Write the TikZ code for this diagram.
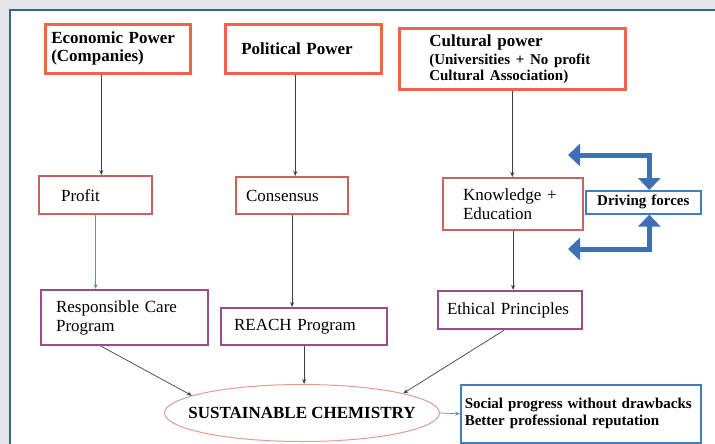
\documentclass[tikz,border=0pt]{standalone}
\usepackage{fontspec}
\setmainfont{Liberation Serif}
\usetikzlibrary{arrows.meta,shapes.geometric}

\definecolor{panelgray}{HTML}{E3E5E9}
\definecolor{paneledge}{HTML}{2B6C86}
\definecolor{powerred}{HTML}{EE6547}
\definecolor{midred}{HTML}{C9635A}
\definecolor{progpurple}{HTML}{9B4C8C}
\definecolor{ellpink}{HTML}{E39A94}
\definecolor{driveblue}{HTML}{3F7FC0}
\definecolor{forceblue}{HTML}{3E70B6}
\definecolor{linkgray}{HTML}{404040}
\definecolor{linkblue}{HTML}{5C8FC8}

\begin{document}
\begin{tikzpicture}[x=1pt, y=-1pt]
                    \tikzstyle{power} = [draw=powerred, line width=2.6pt, anchor=north west, align=left, font=\fontsize{17}{18}\selectfont\bfseries]
                    \tikzstyle{stage} = [draw=midred, line width=2.2pt, anchor=north west, align=left, font=\fontsize{17}{19}\selectfont]
                    \tikzstyle{program} = [draw=progpurple, line width=2.2pt, anchor=north west, align=left, font=\fontsize{17}{19}\selectfont]
                    \tikzstyle{bluebox} = [draw=driveblue, line width=1.6pt, anchor=north west, align=left, font=\fontsize{15}{17}\selectfont\bfseries]
                    \tikzstyle{link} = [draw=linkgray, line width=0.7pt, -{Stealth[length=5pt,width=4pt]}]
                    \tikzstyle{force} = [draw=forceblue, line width=5pt, {Triangle[length=12pt,width=22pt]}-{Triangle[length=12pt,width=22pt]}]
                    \useasboundingbox (0,0) rectangle (715,444);
                    \fill[panelgray] (0,0) rectangle (715,444);
                    \fill[white] (10,10) rectangle (715,444);
                    \draw[paneledge, line width=1.3pt] (10,444) -- (10,10) -- (715,10);

                    % the three powers
                    \node[power, text width=133pt, inner xsep=6pt, minimum height=49pt] (econ) at (44,23) {Economic Power\\(Companies)};
                    \node[power, text width=124pt, inner xsep=16pt, minimum height=49pt] (pol) at (224,23) {Political Power};
                    \node[power, text width=166pt, inner xsep=30pt, minimum height=61pt] (cult) at (398,27)
                        {Cultural power\\[2pt]{\fontsize{15}{16}\selectfont (Universities + No profit\\Cultural Association)\par}};

                    % what each one brings
                    \node[stage, text width=69pt, inner xsep=22pt, minimum height=38pt] (profit) at (38,175) {Profit};
                    \node[stage, text width=92pt, inner xsep=10pt, minimum height=37pt] (cons) at (235,176) {Consensus};
                    \node[stage, text width=100pt, inner xsep=20pt, minimum height=52pt] (know) at (442,177) {Knowledge +\\Education};
                    \node[bluebox, text width=95pt, inner xsep=10pt, minimum height=23pt, align=center] (drive) at (585,190) {Driving forces};

                    % programs
                    \node[program, text width=137pt, inner xsep=15pt, minimum height=55pt] (resp) at (40,289) {Responsible Care\\Program};
                    \node[program, text width=140pt, inner xsep=13pt, minimum height=37pt] (reach) at (220,307) {REACH Program};
                    \node[program, text width=126pt, inner xsep=9pt, minimum height=38pt] (eth) at (437,290) {Ethical Principles};

                    % result
                    \node[ellipse, draw=ellpink, line width=1pt, minimum width=275pt, minimum height=57pt,
                        label={[font=\fontsize{17}{19}\selectfont\bfseries]center:SUSTAINABLE CHEMISTRY}] (chem) at (302,413) {};
                    \node[bluebox, text width=232pt, inner xsep=4pt, minimum height=58pt] (social) at (460,384)
                        {Social progress without drawbacks\\Better professional reputation};

                    \draw[link] ([xshift=-16.5pt]econ.south) -- ([xshift=-16.5pt]econ.south |- profit.north);
                    \draw[link] ([xshift=-8pt]pol.south) -- ([xshift=-8pt]pol.south |- cons.north);
                    \draw[link] (cult.south) -- (cult.south |- know.north);
                    \draw[link, draw=linkblue] (profit.south) -- (profit.south |- resp.north);
                    \draw[link] (cons.south) -- (cons.south |- reach.north);
                    \draw[link] (know.south) -- (know.south |- eth.north);
                    \draw[link] ([xshift=-23.5pt]resp.south) -- (chem.171);
                    \draw[link] (reach.south) -- (reach.south |- chem.north);
                    \draw[link] ([xshift=-6pt]eth.south) -- (chem.11);
                    \draw[link, draw=linkblue] (chem.east) -- (social.west);

                    % driving forces
                    \coordinate (upper) at (568,155);
                    \coordinate (lower) at (568,249);
                    \draw[force] (upper) -| ([xshift=6pt]drive.north);
                    \draw[force] (lower) -| ([xshift=6pt]drive.south);
\end{tikzpicture}
\end{document}
